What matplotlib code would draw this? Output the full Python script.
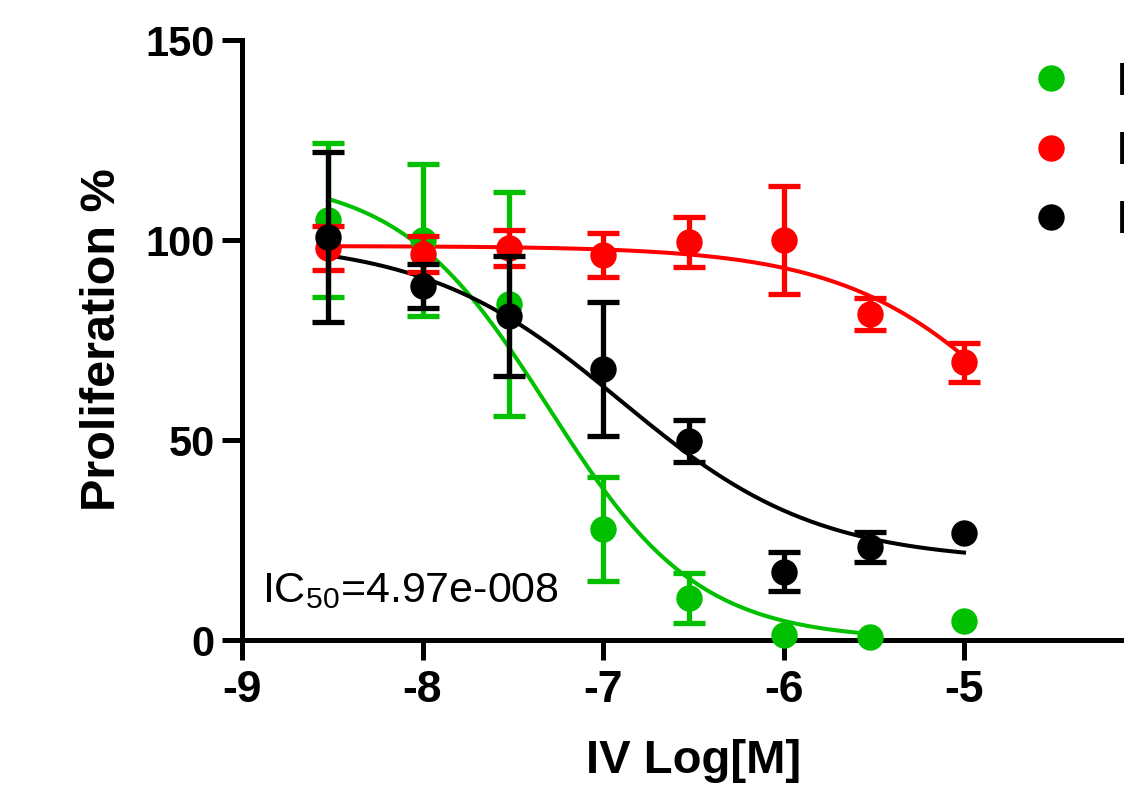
import numpy as np
import matplotlib
matplotlib.use("Agg")
import matplotlib.pyplot as plt

plt.rcParams['font.family'] = ['Liberation Sans', 'DejaVu Sans']
plt.rcParams['mathtext.default'] = 'regular'
plt.rcParams['axes.unicode_minus'] = False

# log concentration (M)
log_conc = [-8.523, -8.0, -7.523, -7.0, -6.523, -6.0, -5.523, -5.0]

green_mean = [105, 100, 84, 27.8, 10.5, 1.2, 0.7, 4.8]
green_sd = [19.2, 19, 28, 13, 6.3, np.nan, np.nan, np.nan]
red_mean = [98, 96.5, 98, 96.2, 99.5, 100, 81.5, 69.4]
red_sd = [5.5, 4.5, 4.5, 5.5, 6.2, 13.6, 4, 4.9]
black_mean = [100.7, 88.5, 81, 67.7, 49.7, 17.1, 23.2, 26.7]
black_sd = [21.2, 5.5, 15, 16.7, 5.2, 4.9, 3.7, np.nan]

# 4PL fit parameters: top, bottom, logIC50, hill slope, curve x end
green_fit = (116, 0, -7.30, 1.05, -5.523)
red_fit = (98.5, 0, -4.50, 0.82, -5.0)
black_fit = (100, 19.5, -6.90, 0.8, -5.0)

labels = ['Line A', 'Line B', 'Line C']
colors = ['#00c000', '#ff0000', '#000000']


def four_pl(x, top, bottom, logic50, hill):
    return bottom + (top - bottom) / (1 + 10 ** ((x - logic50) * hill))


fig = plt.figure(figsize=(11.24, 7.92), dpi=100)
ax = fig.add_axes([242 / 1124, 152 / 792, 902.5 / 1124, 600 / 792])

handles = []
series = [(green_mean, green_sd, green_fit), (red_mean, red_sd, red_fit),
          (black_mean, black_sd, black_fit)]
for i, ((m, sd, fit), c) in enumerate(zip(series, colors)):
    xs = np.linspace(log_conc[0], fit[4], 200)
    ax.plot(xs, four_pl(xs, *fit[:4]), color=c, lw=2.9, zorder=3 + i,
            clip_on=False)
    eb = ax.errorbar(log_conc, m, yerr=sd, fmt='o', color=c, ms=18,
                     elinewidth=3.8, capsize=11.5, capthick=3.8,
                     zorder=6 + i, clip_on=False)
    for art in eb.lines[1] + eb.lines[2]:
        art.set_clip_on(False)
    handles.append(eb.lines[0])

ax.set_xlim(-9, -4)
ax.set_ylim(0, 150)
ax.set_xticks([-9, -8, -7, -6, -5, -4])
ax.set_yticks([0, 50, 100, 150])
ax.spines['top'].set_visible(False)
ax.spines['right'].set_visible(False)
for s in ['left', 'bottom']:
    ax.spines[s].set_linewidth(3.6)
ax.tick_params(width=3.6, length=14.5)
ax.tick_params(axis='y', labelsize=30, pad=5)
ax.tick_params(axis='x', labelsize=32, pad=7)
for lab in ax.get_xticklabels() + ax.get_yticklabels():
    lab.set_fontweight('bold')

ax.set_xlabel('IV Log[M]', fontsize=34, fontweight='bold', labelpad=20)
ax.set_ylabel('Proliferation %', fontsize=35, fontweight='bold', labelpad=15)

ax.text(-8.89, 9.5, 'IC$_{50}$=4.97e-008', fontsize=31, va='baseline',
        ha='left')

fig.legend(handles, labels, loc='upper left',
           bbox_to_anchor=(1027 / 1124, 1 - 61 / 792),
           frameon=False, handlelength=1.0, handletextpad=0.9,
           labelspacing=0.53, borderaxespad=0, borderpad=0,
           prop={'size': 34, 'weight': 'bold'})

fig.savefig('out.png', dpi=100)
